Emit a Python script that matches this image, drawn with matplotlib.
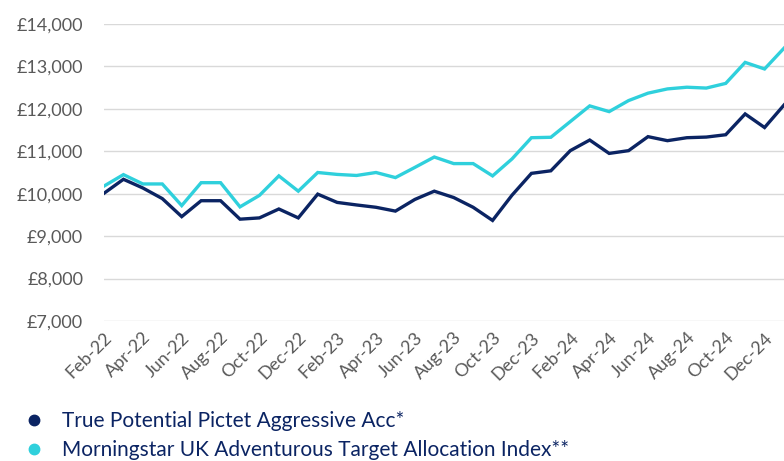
import matplotlib.pyplot as plt
from matplotlib.lines import Line2D
from matplotlib.ticker import FuncFormatter

# monthly values, Feb-22 .. Jan-25
months = ["Feb-22", "Mar-22", "Apr-22", "May-22", "Jun-22", "Jul-22", "Aug-22", "Sep-22",
          "Oct-22", "Nov-22", "Dec-22", "Jan-23", "Feb-23", "Mar-23", "Apr-23", "May-23",
          "Jun-23", "Jul-23", "Aug-23", "Sep-23", "Oct-23", "Nov-23", "Dec-23", "Jan-24",
          "Feb-24", "Mar-24", "Apr-24", "May-24", "Jun-24", "Jul-24", "Aug-24", "Sep-24",
          "Oct-24", "Nov-24", "Dec-24", "Jan-25"]

fund = [10010, 10340, 10135, 9885, 9460, 9835, 9835, 9400,
        9430, 9640, 9430, 9990, 9795, 9735, 9680, 9590,
        9865, 10060, 9910, 9680, 9370, 9965, 10480, 10540,
        11015, 11265, 10950, 11015, 11345, 11250, 11320, 11335,
        11390, 11880, 11560, 12090]

index = [10180, 10450, 10230, 10230, 9720, 10260, 10260, 9690,
         9960, 10420, 10060, 10500, 10455, 10430, 10500, 10380,
         10620, 10865, 10710, 10710, 10420, 10820, 11320, 11330,
         11700, 12070, 11935, 12195, 12370, 12470, 12510, 12490,
         12600, 13095, 12940, 13430]

series_names = ["True Potential Pictet Aggressive Acc*",
                "Morningstar UK Adventurous Target Allocation Index**"]

navy = "#0b2463"
cyan = "#2fd0dc"
grey = "#595959"

plt.rcParams['font.family'] = ['Lato', 'DejaVu Sans']

fig = plt.figure(figsize=(7.84, 4.61), dpi=100)
ax = fig.add_axes([104 / 784, 140 / 461, 680 / 784, 297 / 461])

x = list(range(len(months)))
ax.plot(x, fund, color=navy, lw=2.4, solid_joinstyle='miter', zorder=3)
ax.plot(x, index, color=cyan, lw=2.4, solid_joinstyle='miter', zorder=2)

ax.set_xlim(0, len(months) - 1)
ax.set_ylim(7000, 14000)
ax.set_yticks(range(7000, 14001, 1000))
ax.yaxis.set_major_formatter(FuncFormatter(lambda v, p: "£{:,.0f}".format(v)))
ax.grid(axis='y', color='#d9d9d9', lw=1)
ax.set_axisbelow(True)

ax.set_xticks(x[::2])
ax.set_xticklabels(months[::2], rotation=45, ha='right', va='top',
                   rotation_mode='anchor')
ax.tick_params(axis='both', length=0, colors=grey, labelsize=13)
ax.tick_params(axis='y', pad=15)
ax.tick_params(axis='x', pad=6)
for s in ax.spines.values():
    s.set_visible(False)

handles = [Line2D([], [], color=navy, marker='o', ls='none', markersize=7.5),
           Line2D([], [], color=cyan, marker='o', ls='none', markersize=7.5)]
fig.legend(handles, series_names, loc='upper left', bbox_to_anchor=(26 / 784, 1 - 411 / 461),
           frameon=False, fontsize=15, labelcolor=navy, handletextpad=0.95,
           labelspacing=0.45, borderaxespad=0, borderpad=0, handlelength=0.8)

fig.savefig("out.png", dpi=100)
